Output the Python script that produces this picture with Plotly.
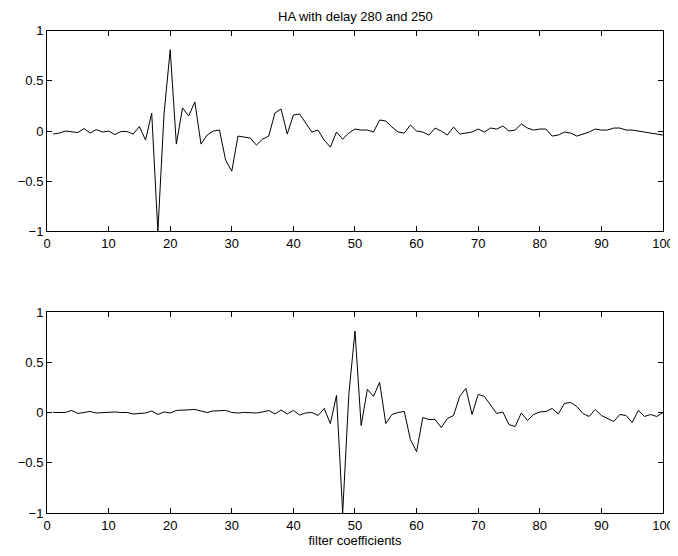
import plotly.graph_objects as go
from plotly.subplots import make_subplots

# filter coefficient index
n = list(range(1, 101))

# first filter (delay 280)
h_top = [-0.03, -0.02, 0.0, -0.01, -0.015, 0.025, -0.02, 0.015, -0.01, 0.0,
         -0.035, -0.005, -0.005, -0.03, 0.045, -0.09, 0.18, -1.0, 0.17, 0.81,
         -0.13, 0.23, 0.15, 0.29, -0.13, -0.04, 0.0, 0.01, -0.29, -0.40,
         -0.05, -0.06, -0.07, -0.14, -0.08, -0.05, 0.18, 0.22, -0.03, 0.16,
         0.17, 0.08, -0.01, 0.01, -0.09, -0.16, -0.01, -0.08, -0.02, 0.02,
         0.01, 0.01, -0.01, 0.11, 0.10, 0.04, -0.01, -0.02, 0.06, 0.0,
         -0.01, -0.04, 0.03, 0.0, -0.04, 0.04, -0.03, -0.02, -0.01, 0.02,
         -0.01, 0.03, 0.02, 0.05, 0.0, 0.01, 0.07, 0.03, 0.01, 0.02,
         0.02, -0.05, -0.04, -0.01, -0.02, -0.05, -0.03, -0.01, 0.02, 0.01,
         0.01, 0.03, 0.03, 0.01, 0.01, 0.0, -0.01, -0.02, -0.03, -0.04]

# second filter (delay 250)
h_bot = [0.0, 0.0, 0.0, 0.02, -0.01, 0.0, 0.01, -0.005, 0.0, 0.0,
         0.005, 0.0, 0.0, -0.015, -0.01, -0.005, 0.015, -0.02, 0.005, -0.005,
         0.02, 0.025, 0.025, 0.03, 0.015, 0.0, 0.015, 0.015, 0.02, 0.0,
         -0.005, 0.0, 0.0, -0.005, 0.005, 0.02, -0.015, 0.025, -0.015, 0.02,
         -0.025, -0.005, 0.0, -0.03, 0.04, -0.11, 0.17, -1.0, 0.18, 0.81,
         -0.13, 0.23, 0.16, 0.30, -0.11, -0.02, 0.0, 0.01, -0.27, -0.39,
         -0.05, -0.07, -0.07, -0.15, -0.06, -0.03, 0.16, 0.24, -0.02, 0.18,
         0.16, 0.08, -0.01, 0.005, -0.12, -0.14, -0.005, -0.08, -0.02, 0.005,
         0.01, 0.04, -0.015, 0.09, 0.10, 0.06, -0.01, -0.04, 0.03, -0.03,
         -0.06, -0.09, -0.02, -0.03, -0.10, 0.02, -0.04, -0.02, -0.04, 0.0]

font = dict(family='Liberation Sans, Arial', size=13, color='black')

fig = make_subplots(rows=2, cols=1)
fig.add_trace(go.Scatter(x=n, y=h_top, mode='lines', line=dict(color='black', width=1)), row=1, col=1)
fig.add_trace(go.Scatter(x=n, y=h_bot, mode='lines', line=dict(color='black', width=1)), row=2, col=1)

ax = dict(showline=True, linecolor='black', linewidth=1, mirror='ticks', ticks='inside',
          ticklen=5, tickcolor='black', showgrid=False, zeroline=False,
          automargin=False, tickfont=font)

fig.update_xaxes(range=[0, 100], tick0=0, dtick=10, **ax)
fig.update_yaxes(range=[-1, 1], tickvals=[-1, -0.5, 0, 0.5, 1],
                 ticktext=['\u22121', '\u22120.5', '0', '0.5', '1'], **ax)

# page body has an 8px margin, so the figure is 670x548 and sits at (8, 8)
fig.update_layout(
    width=670, height=548,
    margin=dict(l=0, r=0, t=0, b=0),
    paper_bgcolor='white', plot_bgcolor='white',
    showlegend=False,
    xaxis=dict(domain=[0.0582, 0.9776]),
    xaxis2=dict(domain=[0.0582, 0.9776],
                title=dict(text='filter coefficients', standoff=0, font=font)),
    yaxis=dict(domain=[0.5923, 0.9586]),
    yaxis2=dict(domain=[0.0785, 0.4453]),
)

# title as a paper annotation so it stays inside the top edge
fig.add_annotation(text='HA with delay 280 and 250', xref='paper', yref='paper',
                   x=0.518, y=1, xanchor='center', yanchor='top', showarrow=False,
                   borderpad=0, font=font)

fig.write_html("out.html")
